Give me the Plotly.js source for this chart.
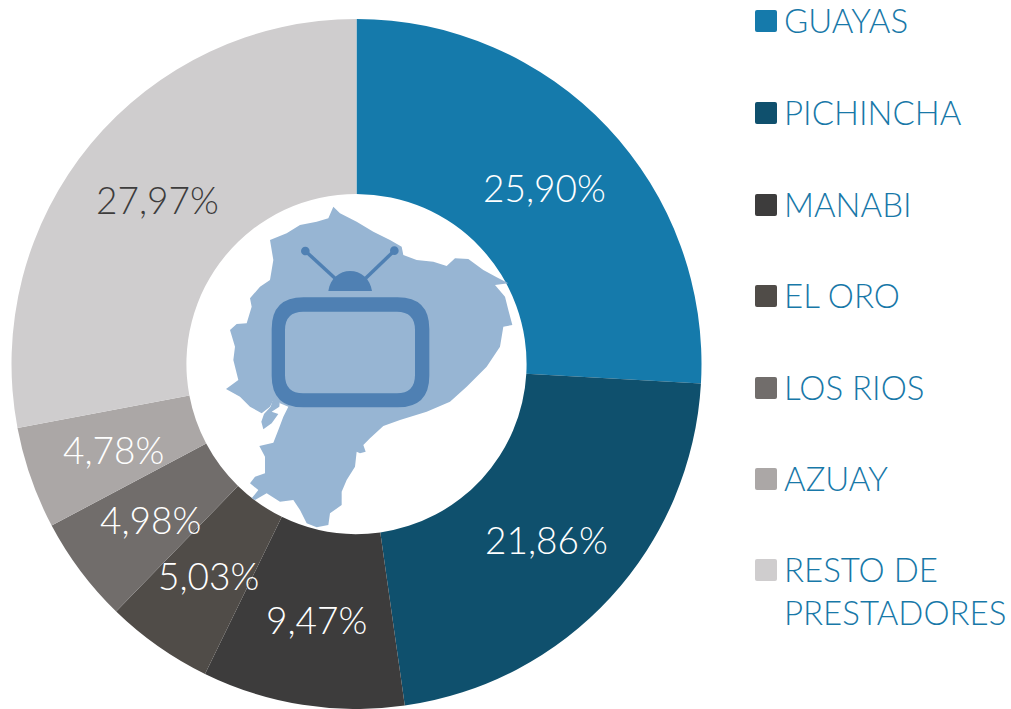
<!DOCTYPE html>
<html><head><meta charset="utf-8">
<script src="https://cdn.plot.ly/plotly-3.0.1.min.js"></script>
<style>html,body{margin:0;padding:0;background:#fff}#c{width:1011px;height:709px}</style>
</head><body><div id="c"></div>
<script>
const categories = ["GUAYAS","PICHINCHA","MANABI","EL ORO","LOS RIOS","AZUAY","RESTO DE<br>PRESTADORES"];
const values = [25.90,21.86,9.47,5.03,4.98,4.78,27.97];
const labelsText = ["25,90%","21,86%","9,47%","5,03%","4,98%","4,78%","27,97%"];
const colors = ["#157AAB","#0F506D","#3D3C3C","#504C48","#716D6B","#ABA7A6","#CFCDCE"];
const labelColors = ["#fff","#fff","#fff","#fff","#fff","#fff","#3D3C3C"];
const legendRowY = [21,113,205,296,388,479,570];

const W=1011,H=709;
const fx=x=>x/W, fy=y=>1-y/H;
const FONT='Lato, "Open Sans", sans-serif';
const zx=x=>200+x/3, zy=y=>190+y/3;
function P(pts,close=true){return pts.map((p,i)=>(i?'L':'M')+fx(zx(p[0]))+','+fy(zy(p[1]))).join(' ')+(close?' Z':'');}
function C(x,y){return fx(zx(x))+','+fy(zy(y));}
function rr(x0,y0,x1,y1,r){return `M${C(x0+r,y0)} L${C(x1-r,y0)} Q${C(x1,y0)} ${C(x1,y0+r)} L${C(x1,y1-r)} Q${C(x1,y1)} ${C(x1-r,y1)} L${C(x0+r,y1)} Q${C(x0,y1)} ${C(x0,y1-r)} L${C(x0,y0+r)} Q${C(x0,y0)} ${C(x0+r,y0)} Z`;}
function circ(x,y,r){const k=r*0.5523;return `M${C(x-r,y)} C${C(x-r,y-k)} ${C(x-k,y-r)} ${C(x,y-r)} C${C(x+k,y-r)} ${C(x+r,y-k)} ${C(x+r,y)} C${C(x+r,y+k)} ${C(x+k,y+r)} ${C(x,y+r)} C${C(x-k,y+r)} ${C(x-r,y+k)} ${C(x-r,y)} Z`;}

const mainland=[[400,50],[420,70],[470,95],[520,125],[570,150],[605,170],[610,195],[650,210],[700,215],[740,228],[765,205],[805,207],[850,240],[890,262],[925,280],[885,285],[915,320],[925,360],[937,405],[910,410],[900,470],[860,530],[800,590],[750,635],[680,665],[600,690],[550,708],[510,745],[490,765],[497,785],[480,790],[470,785],[465,830],[440,870],[425,905],[425,945],[390,970],[385,1005],[350,1012],[320,1000],[300,960],[280,930],[240,935],[200,910],[165,930],[155,925],[175,900],[150,880],[165,860],[195,850],[195,800],[178,768],[220,758],[235,720],[250,680],[265,650],[240,640],[225,620],[210,650],[185,670],[150,650],[120,620],[78,597],[115,570],[100,510],[105,470],[90,420],[110,402],[140,400],[155,350],[150,325],[180,290],[210,270],[220,210],[210,150],[260,130],[300,105],[350,95],[385,85]];
const island=[[222,618],[240,628],[238,650],[215,665],[235,672],[215,700],[190,718],[184,695],[192,672],[212,650]];
const MAP='#97B5D3',TV='#4F80B3';
const shapes=[];
shapes.push({type:'path',xref:'paper',yref:'paper',path:P(mainland),fillcolor:MAP,line:{width:0},layer:'above'});
shapes.push({type:'path',xref:'paper',yref:'paper',path:P(island),fillcolor:MAP,line:{width:0},layer:'above'});
shapes.push({type:'path',xref:'paper',yref:'paper',path:rr(215,322,688,652,95)+' '+rr(255,365,645,610,55),fillcolor:TV,line:{width:0},layer:'above'});
shapes.push({type:'path',xref:'paper',yref:'paper',path:`M${C(385,303)} C${C(390,265)} ${C(420,243)} ${C(450,243)} C${C(482,243)} ${C(510,265)} ${C(516,303)} Z`,fillcolor:TV,line:{width:0},layer:'above'});
shapes.push({type:'path',xref:'paper',yref:'paper',path:P([[315,182],[405,265]],false),line:{color:TV,width:3.5}, layer:'above'});
shapes.push({type:'path',xref:'paper',yref:'paper',path:P([[583,182],[497,265]],false),line:{color:TV,width:3.5}, layer:'above'});
shapes.push({type:'path',xref:'paper',yref:'paper',path:circ(316,183,13),fillcolor:TV,line:{width:0},layer:'above'});
shapes.push({type:'path',xref:'paper',yref:'paper',path:circ(583,182,13),fillcolor:TV,line:{width:0},layer:'above'});

const annotations=[];
categories.forEach((c,i)=>{
  const y=legendRowY[i];
  const s=11,x0=755,x1=777,r=2;
  const a=(x,yy)=>fx(x)+','+fy(yy);
  shapes.push({type:'path',xref:'paper',yref:'paper',layer:'above',fillcolor:colors[i],line:{width:0},
    path:`M${a(x0+r,y-s)} L${a(x1-r,y-s)} Q${a(x1,y-s)} ${a(x1,y-s+r)} L${a(x1,y+s-r)} Q${a(x1,y+s)} ${a(x1-r,y+s)} L${a(x0+r,y+s)} Q${a(x0,y+s)} ${a(x0,y+s-r)} L${a(x0,y-s+r)} Q${a(x0,y-s)} ${a(x0+r,y-s)} Z`});
  annotations.push({xref:'paper',yref:'paper',x:fx(783),y:fy(y-22),xanchor:'left',yanchor:'top',align:'left',showarrow:false,
    text:c,font:{family:FONT,size:33,weight:300,color:'#1878A8'},borderpad:0});
});

// slice labels sit at the middle of the ring, at each slice's mid-angle
const cx=356.5,cy=362.5,ringR=258;
const total=values.reduce((a,b)=>a+b,0);
let cum=0;
values.forEach((v,i)=>{
  const ang=(cum+v/2)/total*2*Math.PI; cum+=v;
  annotations.push({xref:'paper',yref:'paper',x:fx(cx+ringR*Math.sin(ang)),y:fy(cy-ringR*Math.cos(ang)+2),xanchor:'center',yanchor:'middle',showarrow:false,
    text:labelsText[i],font:{family:FONT,size:37,weight:300,color:labelColors[i]},borderpad:0});
});

Plotly.newPlot('c',[{
  type:'pie',labels:categories,values:values,textinfo:'none',sort:false,direction:'clockwise',rotation:0,
  hole:0.493,
  marker:{colors:colors,line:{width:0}},
  domain:{x:[11.5/W,701.5/W],y:[1-709/H,1-19/H]},showlegend:false
}],{
  width:W,height:H,margin:{l:0,r:0,t:0,b:0},paper_bgcolor:'#fff',showlegend:false,
  shapes,annotations
},{displayModeBar:false,staticPlot:true});
</script></body></html>
